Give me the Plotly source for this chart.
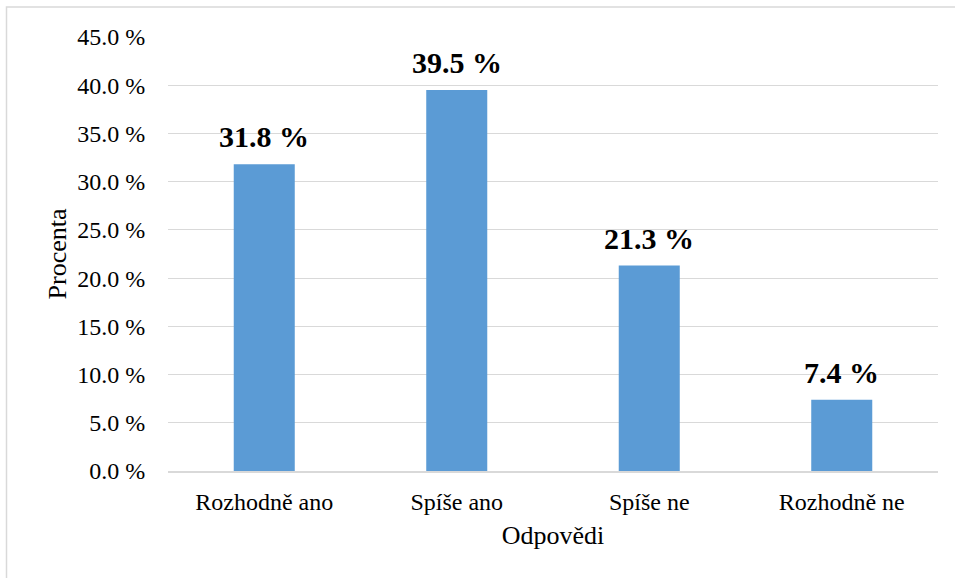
import plotly.graph_objects as go

categories = ["Rozhodně ano", "Spíše ano", "Spíše ne", "Rozhodně ne"]
values = [31.8, 39.5, 21.3, 7.4]
tick_vals = [0, 5, 10, 15, 20, 25, 30, 35, 40, 45]
tick_text = [f"{v:.1f} %" for v in tick_vals]
labels = [f"<b>{v:.1f} %</b>" for v in values]

FONT = "Liberation Serif"

fig = go.Figure(go.Bar(
    x=categories, y=values,
    marker=dict(color="#5B9BD5", line=dict(width=0)),
    cliponaxis=False,
))

for c, v, t in zip(categories, values, labels):
    fig.add_annotation(
        x=c, y=v, text=t, showarrow=False, yanchor="bottom", yshift=9,
        font=dict(family=FONT, size=30, color="black"),
    )

fig.update_layout(
    width=955, height=578,
    margin=dict(l=168, r=17, t=37, b=107),
    paper_bgcolor="white", plot_bgcolor="white",
    bargap=0.683,
    showlegend=False,
    font=dict(family=FONT, color="black"),
    xaxis=dict(
        title=dict(text="Odpovědi", font=dict(family=FONT, size=26), standoff=12),
        tickfont=dict(family=FONT, size=24),
        showline=True, linecolor="#d9d9d9", linewidth=1.5,
        ticks="outside", ticklen=8, tickcolor="rgba(0,0,0,0)", showgrid=False,
    ),
    yaxis=dict(
        title=dict(text="Procenta", font=dict(family=FONT, size=26), standoff=3),
        range=[0, 45], tickvals=tick_vals, ticktext=tick_text,
        tickfont=dict(family=FONT, size=24),
        showgrid=True, gridcolor="#d9d9d9", gridwidth=1.3,
        zeroline=False, showline=False, ticks="outside", ticklen=17,
        tickcolor="rgba(0,0,0,0)",
    ),
    shapes=[dict(
        type="rect", xref="paper", yref="paper",
        x0=(6.5 - 168) / 770, x1=1.1,
        y0=-0.3, y1=(471 - 7) / 434,
        line=dict(color="#d9d9d9", width=1.5), layer="below",
    )],
)

fig.write_html("out.html")
